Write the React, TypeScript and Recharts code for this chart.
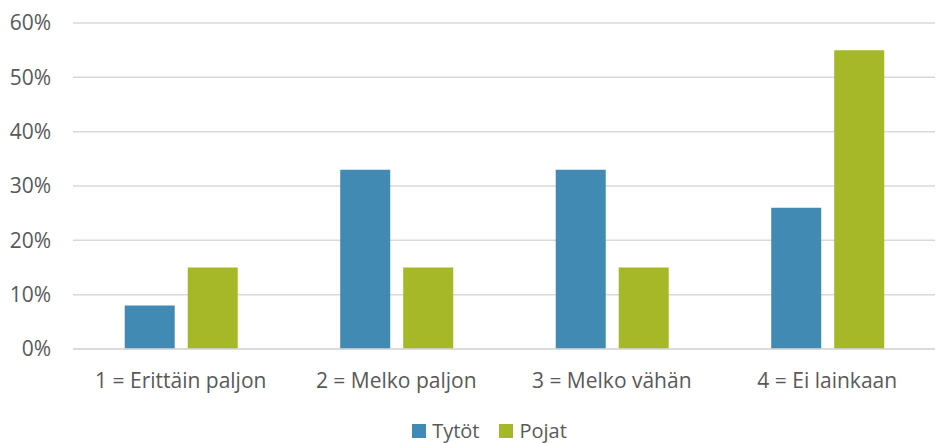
import { BarChart, Bar, XAxis, YAxis, CartesianGrid, Legend } from "recharts";

const categories = [
  "1 = Erittäin paljon",
  "2 = Melko paljon",
  "3 = Melko vähän",
  "4 = Ei lainkaan",
];
const tytot = [8, 33, 33, 26];
const pojat = [15, 15, 15, 55];
const yTicks = [0, 10, 20, 30, 40, 50, 60];
const seriesOrder = ["Tytöt", "Pojat"];

const chartData = categories.map((name, i) => ({
  name,
  tytot: tytot[i],
  pojat: pojat[i],
}));

const textColor = "#595959";
const font = "'Open Sans', sans-serif";

function LegendContent(props: any) {
  const items = [...(props.payload || [])].sort(
    (a: any, b: any) => seriesOrder.indexOf(a.value) - seriesOrder.indexOf(b.value)
  );
  return (
    <div
      style={{
        display: "flex",
        justifyContent: "center",
        gap: 20,
        paddingLeft: 44,
        fontFamily: font,
        fontSize: 20,
        color: textColor,
        lineHeight: "24px",
      }}
    >
      {items.map((it: any) => (
        <div key={it.value} style={{ display: "flex", alignItems: "center", gap: 6 }}>
          <span style={{ width: 14, height: 14, background: it.color, display: "inline-block" }} />
          <span>{it.value}</span>
        </div>
      ))}
    </div>
  );
}

export default function App() {
  return (
    <div style={{ width: 937, height: 443, fontFamily: font }}>
      <style>{`body{margin:0}`}</style>
      <BarChart
        width={937}
        height={443}
        data={chartData}
        margin={{ top: 23, right: 2, bottom: 0, left: 0 }}
        barGap={13}
        barCategoryGap="24%"
      >
        <CartesianGrid vertical={false} stroke="#d9d9d9" strokeWidth={1.5} />
        <XAxis
          dataKey="name"
          tickLine={false}
          axisLine={{ stroke: "#d9d9d9", strokeWidth: 1.5 }}
          tickSize={0}
          tickMargin={24}
          height={70}
          tick={{ fill: textColor, fontSize: 21, fontFamily: font }}
          interval={0}
        />
        <YAxis
          domain={[0, 60]}
          ticks={yTicks}
          tickFormatter={(v) => `${v}%`}
          tickLine={false}
          axisLine={false}
          tickSize={0}
          tickMargin={22}
          width={73}
          tick={{ fill: textColor, fontSize: 21, fontFamily: font }}
        />
        <Legend content={<LegendContent />} />
        <Bar dataKey="tytot" name="Tytöt" fill="#418ab3" isAnimationActive={false} />
        <Bar dataKey="pojat" name="Pojat" fill="#a6b727" isAnimationActive={false} />
      </BarChart>
    </div>
  );
}
